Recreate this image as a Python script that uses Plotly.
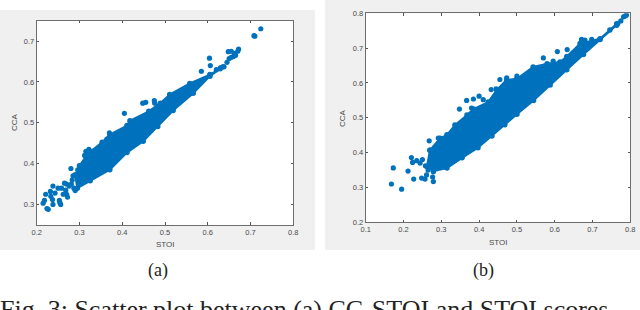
import plotly.graph_objects as go

W, H = 640, 310
BLUE = "#0072bd"

# Panel (a): outline of the dense cloud, then individually visible points
a_upper_x = [0.290,0.300,0.320,0.353,0.371,0.411,0.418,0.462,0.489,0.511,0.558,0.605,0.636]
a_upper_y = [0.372,0.395,0.425,0.452,0.471,0.493,0.505,0.528,0.548,0.569,0.596,0.618,0.637]
a_lower_x = [0.629,0.605,0.566,0.519,0.483,0.449,0.411,0.371,0.325,0.295]
a_lower_y = [0.632,0.614,0.572,0.530,0.491,0.455,0.427,0.385,0.358,0.340]
a_x = [0.724,0.708,0.710,0.672,0.670,0.662,0.655,0.648,0.665,0.660,0.655,0.650,0.645,0.604,0.606,0.585,
       0.638,0.630,0.620,0.405,0.448,0.455,0.475,0.476,0.370,0.364,0.280,0.315,0.322,0.330,0.312,0.325,
       0.215,0.218,0.221,0.224,0.227,0.232,0.233,0.238,0.237,0.238,0.243,0.250,0.258,0.253,0.254,0.256,
       0.262,0.268,0.272,0.270,0.265,0.270,0.276,0.283,0.287,0.290,0.296,0.281,0.285]
a_y = [0.730,0.713,0.712,0.680,0.675,0.670,0.675,0.674,0.665,0.662,0.660,0.657,0.648,0.658,0.640,0.626,
       0.637,0.635,0.630,0.523,0.548,0.550,0.554,0.548,0.475,0.460,0.388,0.430,0.435,0.430,0.420,0.422,
       0.303,0.310,0.325,0.290,0.288,0.332,0.320,0.300,0.312,0.345,0.328,0.340,0.340,0.310,0.305,0.300,
       0.325,0.335,0.318,0.325,0.352,0.350,0.345,0.360,0.340,0.334,0.385,0.350,0.370]

# Panel (b)
b_upper_x = [0.270,0.297,0.315,0.336,0.368,0.385,0.424,0.447,0.473,0.500,0.543,0.580,0.614,0.632,0.667,0.720,0.746,0.764]
b_upper_y = [0.407,0.441,0.451,0.479,0.508,0.525,0.545,0.580,0.609,0.612,0.646,0.655,0.660,0.676,0.713,0.727,0.752,0.770]
b_lower_x = [0.764,0.720,0.676,0.632,0.588,0.544,0.500,0.468,0.434,0.397,0.355,0.315,0.279,0.262]
b_lower_y = [0.766,0.725,0.682,0.638,0.594,0.550,0.510,0.480,0.448,0.414,0.385,0.356,0.347,0.360]
b_x = [0.168,0.173,0.212,0.195,0.227,0.221,0.224,0.235,0.248,0.257,0.261,0.279,0.277,0.279,0.268,0.292,
       0.288,0.348,0.367,0.380,0.385,0.400,0.411,0.432,0.445,0.455,0.473,0.500,0.570,0.607,0.633,0.671,
       0.680,0.698,0.655,0.596,0.782,0.790,0.767,0.250,0.244,0.258,0.265,0.786,0.775]
b_y = [0.310,0.356,0.347,0.295,0.324,0.386,0.372,0.377,0.327,0.324,0.336,0.317,0.330,0.345,0.434,0.442,
       0.418,0.525,0.550,0.528,0.554,0.562,0.552,0.581,0.583,0.610,0.615,0.620,0.672,0.690,0.696,0.725,
       0.723,0.725,0.690,0.663,0.790,0.795,0.771,0.380,0.370,0.362,0.350,0.792,0.778]

x_ticks_a = [0.2,0.3,0.4,0.5,0.6,0.7,0.8]
y_ticks_a = [0.3,0.4,0.5,0.6,0.7]
x_ticks_b = [0.1,0.2,0.3,0.4,0.5,0.6,0.7,0.8]
y_ticks_b = [0.2,0.3,0.4,0.5,0.6,0.7,0.8]

def fx(p): return p / W
def fy(p): return 1 - p / H

fig = go.Figure()

def add_panel(ux, uy, lx, ly, px, py, xa, ya):
    fig.add_trace(go.Scatter(x=ux + lx + ux[:1], y=uy + ly + uy[:1], mode="lines+markers", fill="toself",
                             fillcolor=BLUE, line=dict(color=BLUE, width=2),
                             marker=dict(color=BLUE, size=5.5), xaxis=xa, yaxis=ya,
                             showlegend=False, hoverinfo="skip"))
    fig.add_trace(go.Scatter(x=px, y=py, mode="markers", marker=dict(color=BLUE, size=5.2),
                             xaxis=xa, yaxis=ya, showlegend=False))

add_panel(a_upper_x, a_upper_y, a_lower_x, a_lower_y, a_x, a_y, "x", "y")
add_panel(b_upper_x, b_upper_y, b_lower_x, b_lower_y, b_x, b_y, "x2", "y2")

axis_style = dict(showgrid=False, zeroline=False, showline=True, mirror="ticks", linecolor="#6e6e6e", linewidth=1,
                  ticks="inside", ticklen=2.5, tickcolor="#555555", tickwidth=1, automargin=False,
                  tickformat=".1f", tickfont=dict(family="Liberation Sans", size=7.5, color="#4a4a4a"))
title_font = dict(family="Liberation Sans", size=8, color="#4a4a4a")

def centred(text, px, py, font, angle=0):
    return dict(text=text, xref="paper", yref="paper", x=fx(px), y=fy(py), showarrow=False,
                xanchor="center", yanchor="middle", textangle=angle, font=font)

serif = dict(family="Liberation Serif", size=18, color="#222222")

fig.update_layout(
    width=W, height=H, margin=dict(l=0, r=0, t=0, b=0),
    paper_bgcolor="white", plot_bgcolor="white", showlegend=False,
    xaxis=dict(domain=[fx(36.7), fx(293.3)], range=[0.2, 0.8], tickvals=x_ticks_a, anchor="y", **axis_style),
    yaxis=dict(domain=[fy(224.9), fy(20.6)], range=[0.25, 0.75], tickvals=y_ticks_a, anchor="x", **axis_style),
    xaxis2=dict(domain=[fx(365.7), fx(630.3)], range=[0.1, 0.8], tickvals=x_ticks_b, anchor="y2", **axis_style),
    yaxis2=dict(domain=[fy(222.3), fy(13.3)], range=[0.2, 0.8], tickvals=y_ticks_b, anchor="x2", **axis_style),
    shapes=[
        dict(type="rect", xref="paper", yref="paper", x0=fx(0), x1=fx(315), y0=fy(250), y1=fy(10),
             fillcolor="#f0f0f0", line_width=0, layer="below"),
        dict(type="rect", xref="paper", yref="paper", x0=fx(325), x1=fx(640), y0=fy(250), y1=fy(0),
             fillcolor="#f0f0f0", line_width=0, layer="below"),
        dict(type="rect", xref="paper", yref="paper", x0=fx(36.7), x1=fx(293.3), y0=fy(224.9), y1=fy(20.6),
             fillcolor="white", line_width=0, layer="below"),
        dict(type="rect", xref="paper", yref="paper", x0=fx(365.7), x1=fx(630.3), y0=fy(222.3), y1=fy(13.3),
             fillcolor="white", line_width=0, layer="below"),
    ],
    annotations=[
        centred("STOI", 165, 244, title_font), centred("CCA", 14, 122, title_font, -90),
        centred("STOI", 498, 243, title_font), centred("CCA", 343, 118, title_font, -90),
        centred("(a)", 158, 270, serif), centred("(b)", 483, 270, serif),
        dict(text="Fig. 3: Scatter plot between (a) CC-STOI and STOI scores", xref="paper", yref="paper",
             x=fx(0), y=fy(295), xanchor="left", yanchor="top", showarrow=False, borderpad=0, borderwidth=0,
             font=dict(family="Liberation Serif", size=26, color="#222222")),
    ],
)

fig.write_html("out.html", config=dict(displayModeBar=False),
               post_script="document.body.style.margin='0';window.dispatchEvent(new Event('resize'));")
